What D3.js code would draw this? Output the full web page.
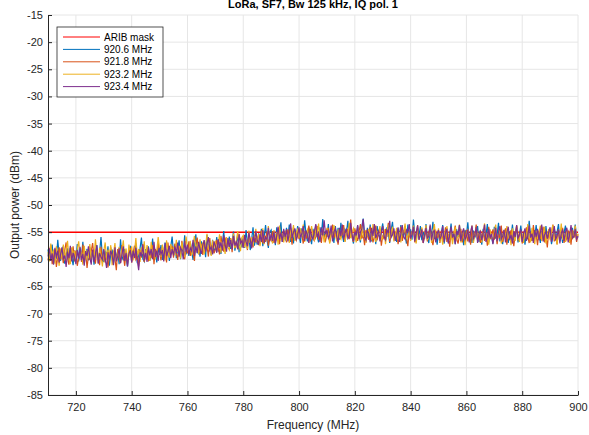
<!doctype html>
<meta charset="utf-8">

<style>
body {
  margin: 0;
  background: white;
}
svg {
  font-family: "Liberation Sans", Arial, sans-serif;
}
.tick text {
  font-size: 11px;
  fill: #262626;
}
</style>

<div id="chart"></div>
<script src="https://d3js.org/d3.v7.min.js"></script>

<script>
  // frequency axis, one sample every 0.5 MHz
  let freqStart = 710, freqEnd = 900, freqStep = 0.5;
  let xTicks = [720, 740, 760, 780, 800, 820, 840, 860, 880, 900];
  let yTicks = [-15, -20, -25, -30, -35, -40, -45, -50, -55, -60, -65, -70, -75, -80, -85];

  let maskFreq = [710, 900];
  let maskLevel = [-55, -55];

  let seriesNames = ["920.6 MHz", "921.8 MHz", "923.2 MHz", "923.4 MHz"];
  let seriesColours = ["#0072BD", "#D95319", "#EDB120", "#7E2F8E"];

  let p920_6 = [
    -58.2,-60.1,-59.4,-57.3,-60.6,-58.8,-59.9,-56.4,-59.2,-60.3,
    -58.5,-57.6,-60.8,-59.1,-58.0,-60.2,-57.9,-59.6,-61.1,-58.4,
    -59.8,-57.2,-60.4,-58.6,-59.5,-56.8,-60.7,-59.0,-58.1,-60.2,
    -57.8,-59.9,-58.3,-61.0,-59.3,-57.4,-60.1,-58.7,-55.9,-59.6,
    -60.5,-58.4,-59.7,-57.6,-61.2,-59.0,-58.2,-60.6,-57.9,-59.8,
    -58.6,-60.9,-56.3,-59.4,-60.2,-58.1,-59.7,-61.3,-58.8,-57.5,
    -60.0,-58.3,-59.6,-57.1,-60.7,-59.2,-58.0,-56.0,-59.9,-60.4,
    -58.1,-59.7,-57.6,-60.3,-58.9,-56.2,-59.4,-58.5,-60.6,-57.8,
    -59.2,-57.4,-60.1,-58.6,-56.9,-59.5,-58.0,-60.3,-57.7,-55.8,
    -58.9,-57.3,-59.8,-58.2,-56.5,-60.0,-57.9,-58.7,-55.6,-59.1,
    -57.5,-59.4,-56.8,-58.6,-60.1,-57.3,-55.4,-58.9,-57.8,-59.5,
    -56.7,-58.8,-57.2,-59.6,-55.5,-58.1,-57.0,-59.2,-56.4,-58.5,
    -57.9,-55.9,-58.6,-56.8,-59.0,-57.2,-54.8,-58.3,-56.5,-57.7,
    -55.8,-58.1,-56.9,-54.9,-58.4,-57.0,-55.6,-58.7,-56.2,-57.8,
    -56.0,-57.9,-54.6,-57.2,-55.8,-58.3,-56.4,-54.1,-57.5,-56.1,
    -57.3,-55.2,-56.8,-54.4,-57.6,-55.9,-53.7,-56.5,-57.9,-55.0,
    -54.6,-56.9,-55.3,-57.4,-54.1,-56.2,-55.5,-53.2,-56.8,-55.7,
    -56.3,-54.2,-55.9,-53.6,-56.8,-55.0,-57.1,-54.5,-55.7,-53.9,
    -55.6,-57.0,-54.3,-56.1,-52.8,-55.4,-56.7,-54.0,-55.9,-57.2,
    -54.4,-56.2,-53.7,-55.8,-56.9,-54.1,-55.5,-52.6,-56.3,-54.8,
    -55.9,-53.5,-56.6,-54.7,-55.3,-57.0,-53.9,-55.7,-54.2,-56.4,
    -53.3,-55.6,-56.8,-54.5,-55.0,-52.9,-56.1,-54.3,-55.8,-57.1,
    -54.6,-56.3,-53.8,-55.5,-56.9,-54.0,-52.5,-55.7,-56.4,-54.2,
    -55.9,-53.6,-56.7,-55.1,-54.4,-57.2,-53.9,-55.6,-56.0,-54.7,
    -53.4,-55.8,-56.5,-54.1,-55.2,-57.0,-54.6,-53.1,-56.3,-55.4,
    -56.8,-54.3,-55.6,-53.7,-56.1,-54.9,-55.5,-57.1,-53.6,-55.9,
    -54.5,-56.4,-52.7,-55.3,-56.8,-54.2,-55.7,-53.9,-56.5,-55.0,
    -56.2,-53.5,-55.8,-57.0,-54.6,-55.4,-53.1,-56.3,-55.0,-57.3,
    -54.8,-56.6,-55.2,-53.7,-57.1,-55.6,-54.3,-56.9,-55.5,-53.4,
    -56.4,-55.0,-57.2,-54.5,-55.9,-53.8,-56.7,-55.3,-57.4,-54.6,
    -55.7,-53.2,-56.3,-55.1,-57.0,-54.7,-56.0,-55.4,-53.9,-56.8,
    -55.2,-57.3,-54.4,-56.1,-55.6,-53.5,-56.9,-54.8,-55.9,-57.1,
    -54.0,-56.2,-55.5,-53.3,-56.7,-55.0,-57.2,-54.6,-56.0,-55.3,
    -57.0,-54.9,-55.8,-53.6,-56.5,-55.2,-54.3,-56.9,-55.6,-53.8,
    -56.1,-55.4,-57.3,-54.7,-56.3,-52.9,-55.7,-56.6,-54.5,-55.9,
    -53.7,-56.4,-55.1,-57.0,-54.8,-55.5,-56.8,-53.9,-56.2,-55.3,
    -54.6,-57.2,-55.8,-54.1,-56.5,-55.0,-53.5,-56.7,-55.4,-57.0,
    -55.1,-53.8,-56.3,-54.9,-56.9,-55.5,-54.2,-56.0,-53.6,-55.8,
    -56.1
  ];
  let p921_8 = [
    -60.2,-58.6,-57.4,-60.9,-59.3,-58.1,-61.4,-59.6,-57.8,-60.0,
    -59.1,-60.7,-58.3,-56.9,-59.8,-61.0,-58.7,-59.5,-57.6,-60.4,
    -58.4,-61.2,-59.7,-58.0,-60.5,-57.3,-59.9,-58.8,-61.6,-59.2,
    -60.1,-58.5,-57.0,-59.6,-60.8,-58.2,-59.4,-61.1,-57.7,-60.3,
    -59.0,-60.6,-58.7,-61.5,-59.5,-57.8,-60.2,-58.4,-59.9,-62.0,
    -58.1,-59.8,-60.7,-57.4,-59.3,-61.2,-58.6,-60.1,-59.0,-57.9,
    -60.6,-58.9,-57.5,-60.0,-59.4,-61.3,-58.2,-59.7,-57.2,-60.5,
    -59.3,-57.9,-60.4,-58.6,-59.8,-57.4,-60.9,-58.1,-59.5,-57.0,
    -58.4,-60.2,-57.7,-59.1,-58.0,-60.6,-56.9,-59.4,-58.3,-57.5,
    -59.7,-57.1,-58.8,-60.1,-57.6,-59.2,-56.6,-58.5,-60.0,-57.9,
    -58.9,-56.7,-59.4,-57.8,-58.6,-60.3,-57.2,-56.0,-59.1,-58.0,
    -57.4,-59.2,-56.5,-58.3,-57.6,-59.5,-56.1,-58.8,-57.0,-58.9,
    -58.2,-56.4,-57.8,-59.1,-55.7,-57.3,-58.6,-56.0,-57.9,-56.8,
    -57.5,-56.1,-58.7,-55.6,-57.9,-56.6,-58.2,-55.3,-57.1,-56.4,
    -57.7,-55.9,-56.6,-58.3,-55.2,-57.0,-56.3,-57.8,-55.5,-56.9,
    -55.8,-57.4,-56.2,-54.7,-57.1,-55.6,-56.8,-54.9,-57.5,-56.0,
    -56.5,-54.8,-57.0,-55.7,-56.3,-54.3,-57.2,-55.4,-56.1,-54.9,
    -55.2,-56.9,-54.5,-56.0,-55.6,-57.3,-54.1,-55.8,-56.5,-55.0,
    -56.3,-54.6,-55.4,-57.1,-54.9,-56.2,-55.3,-53.8,-56.7,-55.5,
    -54.7,-56.5,-55.9,-53.9,-56.4,-55.2,-57.0,-54.5,-55.8,-56.6,
    -55.3,-54.2,-56.9,-55.6,-53.6,-56.1,-54.8,-55.7,-57.3,-54.9,
    -56.0,-55.4,-53.7,-56.7,-55.1,-54.4,-56.3,-52.7,-55.9,-56.8,
    -54.3,-55.8,-56.6,-54.9,-53.5,-56.2,-55.5,-57.4,-54.6,-55.7,
    -56.4,-54.0,-55.3,-56.9,-55.8,-53.8,-56.5,-55.0,-54.7,-57.5,
    -55.6,-56.3,-54.4,-55.9,-53.3,-56.8,-55.2,-54.6,-56.1,-55.5,
    -54.9,-57.2,-55.7,-54.0,-56.6,-55.3,-53.9,-56.0,-57.6,-54.8,
    -56.2,-55.0,-54.5,-56.9,-55.6,-53.7,-56.4,-55.2,-54.3,-57.0,
    -55.8,-54.6,-56.7,-55.1,-53.9,-56.3,-57.4,-55.5,-54.8,-56.1,
    -55.2,-57.0,-54.7,-56.4,-55.9,-54.1,-56.8,-55.3,-57.7,-54.9,
    -56.5,-55.1,-53.8,-56.2,-57.1,-55.6,-54.4,-56.9,-55.0,-56.3,
    -54.6,-56.7,-55.4,-57.3,-54.2,-56.0,-55.7,-53.6,-56.5,-55.2,
    -57.0,-55.5,-54.8,-56.6,-55.1,-57.5,-54.0,-56.2,-55.8,-54.5,
    -56.4,-54.9,-57.2,-55.3,-56.1,-53.8,-56.8,-55.5,-54.3,-57.3,
    -55.0,-56.5,-54.6,-55.9,-57.6,-55.2,-53.9,-56.3,-55.7,-54.8,
    -57.1,-55.4,-56.2,-54.1,-55.8,-57.0,-55.1,-56.6,-53.7,-56.0,
    -55.5,-57.4,-54.7,-56.3,-55.2,-54.0,-56.9,-55.6,-57.8,-54.9,
    -56.2,-55.0,-53.6,-56.7,-55.4,-57.2,-54.5,-56.1,-55.8,-54.2,
    -57.0,-55.7,-56.4,-54.8,-55.3,-57.3,-54.6,-56.0,-55.1,-56.8,
    -55.4
  ];
  let p923_2 = [
    -58.7,-60.4,-57.1,-59.6,-58.2,-60.8,-57.6,-59.3,-61.2,-58.0,
    -59.9,-57.3,-60.2,-58.5,-56.6,-59.7,-60.9,-57.8,-59.1,-58.4,
    -60.6,-58.1,-56.7,-59.5,-58.9,-61.0,-57.5,-60.1,-58.3,-59.8,
    -57.2,-60.3,-58.6,-59.9,-56.3,-58.8,-60.7,-57.9,-59.4,-61.3,
    -58.5,-56.9,-60.0,-58.2,-59.6,-57.4,-61.1,-58.9,-57.0,-60.4,
    -59.2,-57.7,-60.6,-58.3,-56.5,-59.8,-58.0,-60.9,-57.3,-59.5,
    -57.6,-60.2,-58.7,-56.1,-59.4,-58.1,-60.5,-57.8,-59.0,-56.7,
    -59.9,-57.4,-58.6,-60.3,-56.8,-59.1,-57.7,-60.0,-58.4,-55.9,
    -58.1,-59.6,-57.3,-58.9,-60.2,-56.5,-58.5,-59.7,-57.2,-59.0,
    -57.8,-59.3,-56.4,-58.6,-57.5,-59.9,-56.9,-58.2,-59.6,-55.8,
    -57.9,-58.8,-56.6,-59.3,-57.4,-55.7,-58.5,-57.1,-59.0,-56.3,
    -58.4,-56.9,-59.1,-57.5,-55.3,-58.2,-57.0,-59.4,-56.5,-58.0,
    -56.6,-58.5,-57.3,-55.4,-58.8,-56.9,-57.6,-59.0,-55.9,-57.8,
    -58.3,-56.2,-57.7,-55.2,-58.0,-56.8,-54.8,-57.4,-58.5,-56.0,
    -55.6,-57.8,-56.5,-58.1,-54.7,-57.0,-55.9,-57.5,-56.2,-54.4,
    -56.9,-55.3,-57.6,-56.0,-54.3,-57.2,-55.7,-56.6,-53.9,-56.4,
    -55.5,-57.1,-54.6,-56.2,-55.0,-57.3,-53.8,-56.5,-55.2,-56.9,
    -54.7,-56.3,-55.6,-57.0,-54.2,-55.9,-53.7,-56.6,-55.1,-54.5,
    -56.0,-54.3,-55.7,-53.6,-56.8,-55.2,-54.6,-57.0,-55.4,-53.9,
    -55.8,-56.6,-54.0,-55.3,-53.4,-56.4,-55.0,-54.6,-56.9,-55.5,
    -54.2,-55.7,-57.1,-54.8,-56.0,-53.7,-55.4,-56.7,-54.5,-55.9,
    -56.3,-53.9,-55.2,-56.8,-54.7,-55.5,-53.3,-56.1,-55.0,-54.3,
    -55.7,-56.9,-54.1,-55.4,-56.5,-53.8,-55.9,-54.6,-57.0,-55.2,
    -54.4,-55.8,-56.3,-53.5,-55.6,-56.8,-54.9,-55.3,-53.9,-56.5,
    -55.9,-54.5,-57.2,-55.1,-53.6,-56.2,-55.4,-54.0,-56.7,-55.6,
    -54.2,-56.4,-55.0,-56.9,-54.6,-55.3,-53.4,-56.1,-55.7,-54.8,
    -56.6,-55.2,-53.8,-55.9,-57.1,-54.4,-56.0,-55.5,-54.1,-56.8,
    -55.3,-53.7,-56.5,-55.8,-54.6,-57.0,-55.1,-53.5,-56.2,-55.6,
    -54.3,-56.8,-55.5,-57.3,-54.9,-56.1,-53.9,-55.7,-56.6,-54.5,
    -57.2,-55.4,-54.0,-56.3,-55.8,-53.6,-56.9,-55.0,-54.7,-57.4,
    -55.9,-54.4,-56.6,-55.1,-53.8,-57.0,-55.6,-54.2,-56.4,-55.3,
    -54.8,-56.9,-55.2,-53.4,-56.2,-55.7,-57.3,-54.5,-55.9,-56.5,
    -55.0,-53.6,-56.7,-55.4,-54.1,-57.1,-55.8,-54.6,-56.3,-53.9,
    -56.0,-55.5,-57.4,-54.3,-55.9,-56.6,-53.7,-55.2,-56.8,-54.9,
    -55.4,-57.0,-54.6,-56.1,-53.5,-55.8,-56.9,-54.2,-55.6,-57.2,
    -54.7,-56.3,-55.1,-53.8,-56.6,-55.4,-54.0,-57.1,-55.7,-54.4,
    -56.5,-55.0,-53.7,-56.2,-55.6,-57.3,-54.8,-55.9,-53.4,-56.4,
    -55.2,-56.8,-54.5,-55.7,-57.0,-54.1,-56.3,-55.5,-53.8,-56.0,
    -55.3
  ];
  let p923_4 = [
    -59.5,-58.0,-60.3,-58.9,-61.0,-57.9,-59.7,-58.4,-60.6,-59.1,
    -57.8,-60.0,-59.3,-61.4,-58.6,-59.8,-57.5,-60.4,-58.8,-59.6,
    -60.9,-58.3,-59.9,-57.7,-60.2,-59.0,-61.2,-58.5,-59.4,-57.6,
    -59.7,-61.0,-58.2,-60.5,-59.1,-57.4,-60.8,-58.9,-59.6,-60.1,
    -58.1,-59.9,-61.6,-58.7,-60.0,-58.4,-59.3,-61.1,-57.8,-60.4,
    -59.4,-58.0,-60.7,-59.2,-57.6,-60.3,-58.8,-61.3,-59.0,-58.3,
    -60.6,-58.5,-59.8,-57.9,-60.1,-62.0,-58.7,-59.5,-57.3,-60.2,
    -58.8,-60.5,-57.8,-59.3,-58.1,-60.0,-56.8,-59.6,-58.4,-60.3,
    -57.9,-59.1,-58.3,-60.4,-57.0,-59.4,-58.6,-57.5,-59.8,-58.1,
    -59.3,-57.6,-58.9,-56.9,-59.5,-57.8,-58.4,-60.0,-56.6,-58.7,
    -57.3,-59.1,-57.9,-58.5,-56.4,-59.4,-57.6,-58.8,-56.8,-58.2,
    -59.0,-57.4,-56.5,-58.6,-57.2,-55.9,-58.3,-57.7,-59.1,-56.7,
    -57.5,-58.8,-56.3,-57.9,-56.9,-58.4,-55.6,-57.3,-58.6,-56.1,
    -57.7,-56.4,-58.2,-55.7,-57.5,-56.8,-58.1,-55.4,-57.0,-56.6,
    -57.9,-55.5,-56.8,-57.6,-55.1,-56.4,-58.0,-55.8,-56.9,-54.8,
    -56.5,-57.3,-55.4,-56.8,-54.6,-57.0,-55.9,-56.4,-54.2,-56.7,
    -55.3,-56.6,-54.9,-57.1,-55.6,-54.0,-56.3,-55.1,-56.8,-54.4,
    -55.9,-54.5,-56.7,-55.2,-53.4,-56.1,-55.0,-54.3,-56.5,-55.6,
    -54.1,-56.0,-55.3,-53.9,-56.6,-54.7,-55.5,-57.0,-54.4,-55.8,
    -56.3,-54.8,-53.5,-55.9,-55.2,-56.8,-54.1,-55.6,-52.8,-55.4,
    -54.6,-56.1,-55.5,-53.8,-56.7,-55.0,-54.3,-55.8,-56.9,-54.2,
    -55.7,-53.6,-56.4,-55.1,-54.5,-56.2,-55.8,-53.3,-55.5,-56.6,
    -54.9,-55.6,-53.7,-56.3,-55.0,-54.4,-52.6,-55.9,-56.5,-54.7,
    -55.3,-56.9,-54.2,-55.7,-53.5,-56.1,-55.4,-54.8,-56.7,-55.1,
    -53.9,-55.8,-56.4,-54.5,-55.2,-52.9,-56.0,-55.5,-54.3,-56.6,
    -55.7,-54.1,-56.8,-55.3,-53.7,-55.9,-56.3,-54.6,-55.0,-53.5,
    -56.2,-55.4,-54.0,-56.7,-55.1,-53.8,-56.4,-55.6,-54.5,-57.0,
    -55.5,-54.2,-56.1,-55.8,-53.6,-56.5,-55.0,-54.7,-56.9,-55.3,
    -54.6,-56.3,-55.7,-53.9,-56.8,-55.2,-54.4,-57.1,-55.6,-54.0,
    -56.0,-55.3,-57.2,-54.8,-55.5,-53.7,-56.6,-55.1,-54.3,-56.4,
    -55.8,-54.5,-56.9,-55.0,-53.8,-56.2,-55.6,-54.1,-57.0,-55.4,
    -54.7,-56.5,-55.2,-53.6,-56.8,-55.9,-54.4,-56.1,-55.3,-57.2,
    -55.6,-54.2,-56.7,-55.0,-53.9,-56.3,-55.7,-54.6,-56.9,-55.1,
    -54.0,-56.4,-55.5,-57.1,-54.8,-55.9,-53.7,-56.2,-55.4,-54.5,
    -56.8,-55.2,-54.3,-56.6,-55.7,-53.8,-56.0,-55.3,-57.0,-54.6,
    -55.9,-54.4,-56.5,-55.1,-53.6,-56.7,-55.5,-54.9,-56.2,-55.0,
    -54.1,-56.8,-55.4,-53.9,-56.3,-55.7,-54.6,-57.1,-55.2,-54.5,
    -56.6,-55.0,-54.2,-56.9,-55.5,-53.7,-56.1,-55.8,-54.4,-56.3,
    -55.7
  ];
  let seriesValues = [p920_6, p921_8, p923_2, p923_4];

  let W = 589, H = 435;
  let margin = {top: 15, right: 11, bottom: 40, left: 48};
  let width = W - margin.left - margin.right,
      height = H - margin.top - margin.bottom;

  let svg = d3.select("#chart")
    .append("svg")
    .attr("width", W)
    .attr("height", H);

  let g = svg.append("g")
    .attr("transform", "translate(" + margin.left + "," + margin.top + ")");

  let x = d3.scaleLinear().domain([freqStart, freqEnd]).range([0, width]);
  let y = d3.scaleLinear().domain([-85, -15]).range([height, 0]);

  // grid
  g.append("g")
    .selectAll("line")
    .data(xTicks)
    .enter()
    .append("line")
    .attr("x1", d => x(d)).attr("x2", d => x(d))
    .attr("y1", 0).attr("y2", height)
    .attr("stroke", "#e6e6e6");

  g.append("g")
    .selectAll("line")
    .data(yTicks)
    .enter()
    .append("line")
    .attr("x1", 0).attr("x2", width)
    .attr("y1", d => y(d)).attr("y2", d => y(d))
    .attr("stroke", "#e6e6e6");

  // traces
  let plot = g.append("g");

  plot.append("path")
    .datum(maskFreq.map((f, i) => [f, maskLevel[i]]))
    .attr("fill", "none")
    .attr("stroke", "#ff0000")
    .attr("stroke-width", 1.5)
    .attr("d", d3.line().x(d => x(d[0])).y(d => y(d[1])));

  let traceLine = d3.line()
    .x((d, i) => x(freqStart + i * freqStep))
    .y(d => y(d));

  seriesValues.forEach((vals, k) => {
    plot.append("path")
      .datum(vals)
      .attr("fill", "none")
      .attr("stroke", seriesColours[k])
      .attr("stroke-width", 1.2)
      .attr("d", traceLine);
  });

  // axes
  let xAxis = d3.axisBottom(x)
    .tickValues(xTicks)
    .tickSizeInner(-4)
    .tickSizeOuter(0)
    .tickPadding(8);

  let yAxis = d3.axisLeft(y)
    .tickValues(yTicks)
    .tickSizeInner(-4)
    .tickSizeOuter(0)
    .tickPadding(5);

  g.append("g")
    .attr("transform", "translate(0," + height + ")")
    .call(xAxis)
    .call(a => a.selectAll("path, line").attr("stroke", "#262626"));

  g.append("g")
    .call(yAxis)
    .call(a => a.selectAll("path, line").attr("stroke", "#262626"))
    .call(a => a.selectAll("text").text(d => String(d)));

  // labels
  svg.append("text")
    .attr("x", margin.left + width / 2)
    .attr("y", 8)
    .attr("text-anchor", "middle")
    .attr("font-size", 11)
    .attr("font-weight", "bold")
    .attr("fill", "black")
    .text("LoRa, SF7, Bw 125 kHz, IQ pol. 1");

  svg.append("text")
    .attr("x", margin.left + width / 2)
    .attr("y", 429)
    .attr("text-anchor", "middle")
    .attr("font-size", 12)
    .attr("fill", "#262626")
    .text("Frequency (MHz)");

  svg.append("text")
    .attr("transform", "translate(19," + (margin.top + height / 2) + ") rotate(-90)")
    .attr("text-anchor", "middle")
    .attr("font-size", 12)
    .attr("fill", "#262626")
    .text("Output power (dBm)");

  // legend
  let legendNames = ["ARIB mask"].concat(seriesNames);
  let legendColours = ["#ff0000"].concat(seriesColours);

  let legend = svg.append("g").attr("transform", "translate(57,27)");
  legend.append("rect")
    .attr("width", 106)
    .attr("height", 70)
    .attr("fill", "white")
    .attr("stroke", "#262626")
    .attr("stroke-width", 0.8);

  let item = legend.selectAll(".item")
    .data(legendNames)
    .enter()
    .append("g")
    .attr("class", "item")
    .attr("transform", (d, i) => "translate(0," + (10 + i * 12.4) + ")");

  item.append("line")
    .attr("x1", 6).attr("x2", 43)
    .attr("stroke", (d, i) => legendColours[i])
    .attr("stroke-width", 1);

  item.append("text")
    .attr("x", 47)
    .attr("dy", "0.35em")
    .attr("font-size", 10)
    .attr("fill", "black")
    .text(d => d);
</script>
